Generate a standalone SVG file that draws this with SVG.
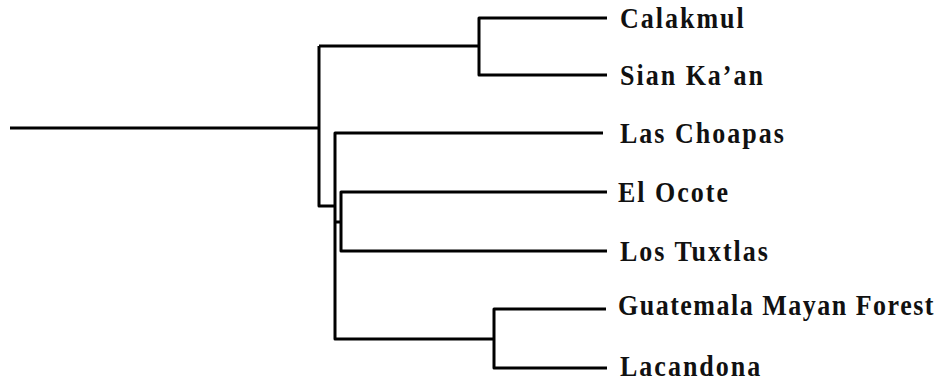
<svg xmlns="http://www.w3.org/2000/svg" width="947" height="381" viewBox="0 0 947 381">
<style>
.e{fill:none;stroke:#000;stroke-width:3;stroke-linejoin:round;stroke-linecap:butt}
.t{font-family:"Liberation Serif","Times New Roman",serif;font-weight:bold;font-size:26px;letter-spacing:2px;fill:#111}
.g{letter-spacing:1.5px}
</style>
<rect width="947" height="381" fill="#fff"/>
<g id="connectors">
<path class="e" d="M10,128H319"/>
<path class="e" d="M319,46V206H335"/>
<path class="e" d="M319,46H479"/>
<path class="e" d="M607,18H479V75H607"/>
<path class="e" d="M603,133H335V339H494"/>
<path class="e" d="M335,222H341"/>
<path class="e" d="M607,192H341V251H607"/>
<path class="e" d="M606,309H494V368H607"/>
</g>
<g id="calakmul"><text class="t" transform="translate(620,27.5) scale(1,1.1)">Calakmul</text></g>
<g id="sian-kaan"><text class="t" transform="translate(620,84.5) scale(1,1.1)">Sian Ka’an</text></g>
<g id="las-choapas"><text class="t" transform="translate(620,142.5) scale(1,1.1)">Las Choapas</text></g>
<g id="el-ocote"><text class="t" transform="translate(618,201.5) scale(1,1.1)">El Ocote</text></g>
<g id="los-tuxtlas"><text class="t" transform="translate(620,260.5) scale(1,1.1)">Los Tuxtlas</text></g>
<g id="guatemala"><text class="t g" transform="translate(618,315) scale(1,1.1)">Guatemala Mayan Forest</text></g>
<g id="lacandona"><text class="t" transform="translate(620,375.5) scale(1,1.1)">Lacandona</text></g>
</svg>
